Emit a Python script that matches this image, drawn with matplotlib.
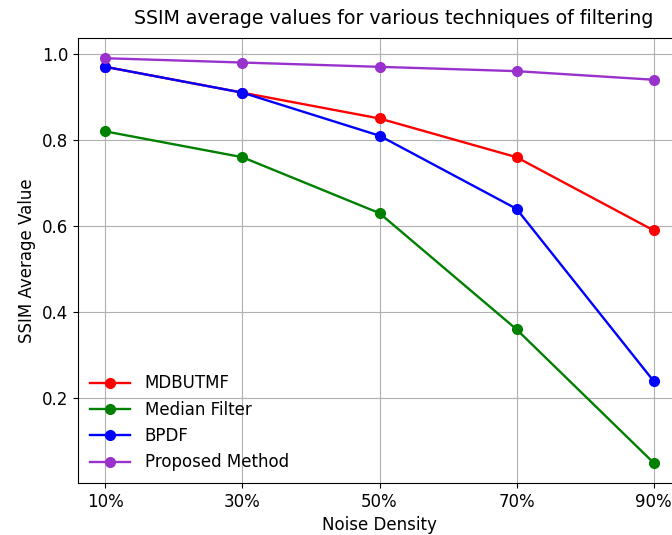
import matplotlib.pyplot as plt

noise = ['10%', '30%', '50%', '70%', '90%']
mdbutmf = [0.97, 0.91, 0.85, 0.76, 0.59]
median_filter = [0.82, 0.76, 0.63, 0.36, 0.05]
bpdf = [0.97, 0.91, 0.81, 0.64, 0.24]
proposed = [0.99, 0.98, 0.97, 0.96, 0.94]

plt.rcParams['font.size'] = 12

fig = plt.figure(figsize=(6.72, 5.35), dpi=100)
# axes runs past the right edge, as in the reference crop
ax = fig.add_axes([78 / 672, 52 / 535, 603 / 672, 445 / 535])

style = dict(marker='o', markersize=7, linewidth=1.7)
ax.plot(noise, mdbutmf, color='red', label='MDBUTMF', **style)
ax.plot(noise, median_filter, color='green', label='Median Filter', **style)
ax.plot(noise, bpdf, color='blue', label='BPDF', **style)
ax.plot(noise, proposed, color='darkorchid', label='Proposed Method', **style)

ax.set_yticks([0.2, 0.4, 0.6, 0.8, 1.0])
ax.set_xlabel('Noise Density')
ax.set_ylabel('SSIM Average Value')
ax.set_title('SSIM average values for various techniques of filtering',
             fontsize=13.7, x=0.524, pad=10)
ax.grid(True)
ax.legend(loc='lower left', frameon=False, borderaxespad=0.3, handlelength=2.4,
          handletextpad=0.9)

plt.savefig('out.png', dpi=100)
